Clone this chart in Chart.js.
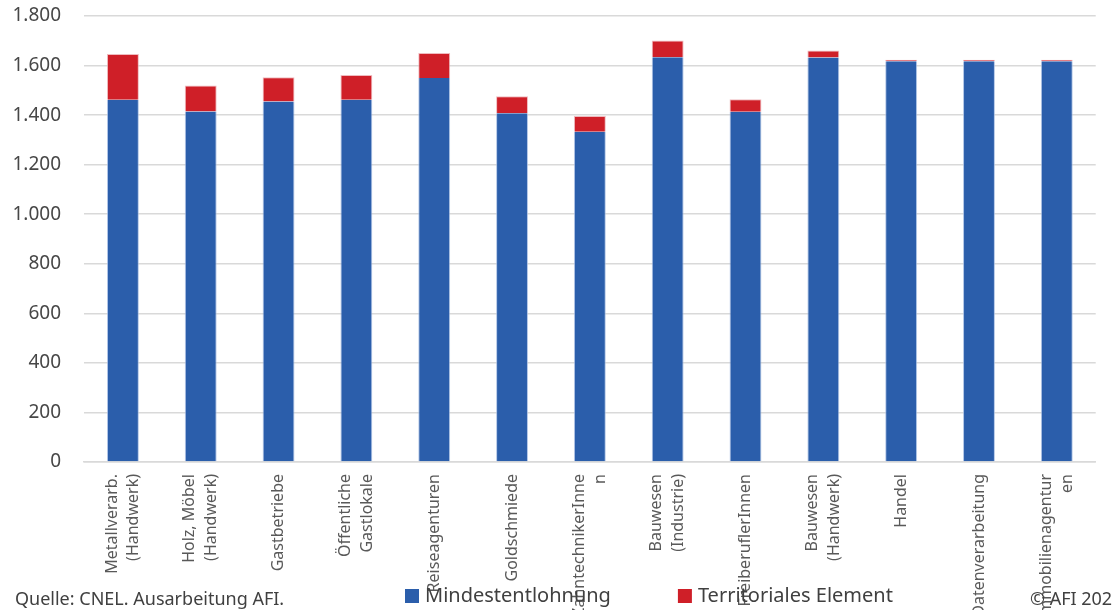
<!DOCTYPE html>
<html lang="de">
<head>
<meta charset="UTF-8">
<title>Mindestentlohnung</title>
<script src="https://cdn.jsdelivr.net/npm/chart.js"></script>
<style>
  body { margin: 0; background: #fff; }
  #wrap { position: relative; width: 1112px; height: 610px; overflow: hidden; }
  .note { position: absolute; font-family: 'Noto Sans', sans-serif; font-size: 18px; color: #404040; white-space: nowrap; }
  #source { left: 15px; top: 586px; }
  #copy { left: 1030px; top: 586px; }
</style>
</head>
<body>
<div id="wrap">
  <canvas id="wageChart" width="1112" height="610"></canvas>
  <div class="note" id="source">Quelle: CNEL. Ausarbeitung AFI.</div>
  <div class="note" id="copy">© AFI 2024</div>
</div>
<script>
// Categories (sectors)
const sectors = [
  ['Metallverarb.', '(Handwerk)'],
  ['Holz, Möbel', '(Handwerk)'],
  'Gastbetriebe',
  ['Öffentliche', 'Gastlokale'],
  'Reiseagenturen',
  'Goldschmiede',
  ['ZahntechnikerInne', 'n'],
  ['Bauwesen', '(Industrie)'],
  'FreiberuflerInnen',
  ['Bauwesen', '(Handwerk)'],
  'Handel',
  'Datenverarbeitung',
  ['Immobilienagentur', 'en']
];

// Series values (euro)
const minimumWage = [1462, 1415, 1455, 1462, 1550, 1408, 1333, 1634, 1414, 1633, 1617, 1617, 1617];
const territorialElement = [185, 105, 98, 100, 101, 68, 63, 67, 50, 28, 6, 6, 6];

// Y axis ticks
const yTicks = [0, 200, 400, 600, 800, 1000, 1200, 1400, 1600, 1800];

const fontFamily = "'Noto Sans', sans-serif";

function formatDe(value) {
  return value.toString().replace(/\B(?=(\d{3})+(?!\d))/g, '.');
}

// Centre multi-line rotated category labels on their tick (Chart.js puts the first line on it)
const centerLabels = {
  id: 'centerLabels',
  beforeDraw(chart) {
    const scale = chart.scales.x;
    const items = scale.getLabelItems(chart.chartArea);
    items.forEach((item) => {
      if (Array.isArray(item.label) && !item._centered) {
        item.textOffset -= (item.label.length - 1) * item.font.lineHeight / 2;
        item._centered = true;
      }
    });
  }
};

// Legend drawn below the plot, overlapping the category labels like the original
const bottomLegend = {
  id: 'bottomLegend',
  afterDraw(chart) {
    const c = chart.ctx;
    const y = 596;
    let x = 405;
    c.save();
    c.font = '20px ' + fontFamily;
    c.textBaseline = 'middle';
    c.textAlign = 'left';
    chart.data.datasets.forEach((ds) => {
      c.fillStyle = ds.backgroundColor;
      c.fillRect(x, y - 7, 14, 14);
      x += 20;
      c.fillStyle = '#404040';
      c.fillText(ds.label, x, y);
      x += c.measureText(ds.label).width + 67;
    });
    c.restore();
  }
};

const ctx = document.getElementById('wageChart').getContext('2d');
new Chart(ctx, {
  type: 'bar',
  data: {
    labels: sectors,
    datasets: [
      {
        label: 'Mindestentlohnung',
        data: minimumWage,
        backgroundColor: '#2B5EAB',
        borderColor: 'rgba(160, 185, 225, 0.8)',
        borderWidth: { left: 1, right: 1, top: 0, bottom: 0 },
        categoryPercentage: 1,
        barPercentage: 0.41
      },
      {
        label: 'Territoriales Element',
        data: territorialElement,
        backgroundColor: '#CF1F28',
        borderColor: 'rgba(235, 170, 175, 0.8)',
        borderWidth: { left: 1, right: 1, top: 1, bottom: 0 },
        categoryPercentage: 1,
        barPercentage: 0.41
      }
    ]
  },
  options: {
    responsive: false,
    animation: false,
    layout: {
      padding: 0
    },
    scales: {
      x: {
        stacked: true,
        grid: { display: false, drawTicks: false },
        border: { display: true, color: '#D9D9D9', width: 1.5 },
        ticks: {
          minRotation: 90,
          maxRotation: 90,
          autoSkip: false,
          padding: 12,
          color: '#595959',
          font: { family: fontFamily, size: 16, lineHeight: 1.35 }
        },
        afterFit: function (scale) {
          scale.height = 148;
        }
      },
      y: {
        stacked: true,
        min: 0,
        max: 1800,
        afterBuildTicks: function (scale) {
          scale.ticks = yTicks.map(v => ({ value: v }));
        },
        grid: { color: '#D9D9D9', lineWidth: 1.5, drawTicks: false },
        border: { display: false },
        ticks: {
          padding: 23,
          color: '#474747',
          font: { family: fontFamily, size: 19 },
          callback: function (value) { return formatDe(value); }
        },
        afterFit: function (scale) {
          scale.width = 84;
          scale.paddingTop = 16;
          scale.paddingBottom = 0;
        }
      }
    },
    plugins: {
      legend: { display: false },
      tooltip: { enabled: false }
    }
  },
  plugins: [centerLabels, bottomLegend]
});
</script>
</body>
</html>
